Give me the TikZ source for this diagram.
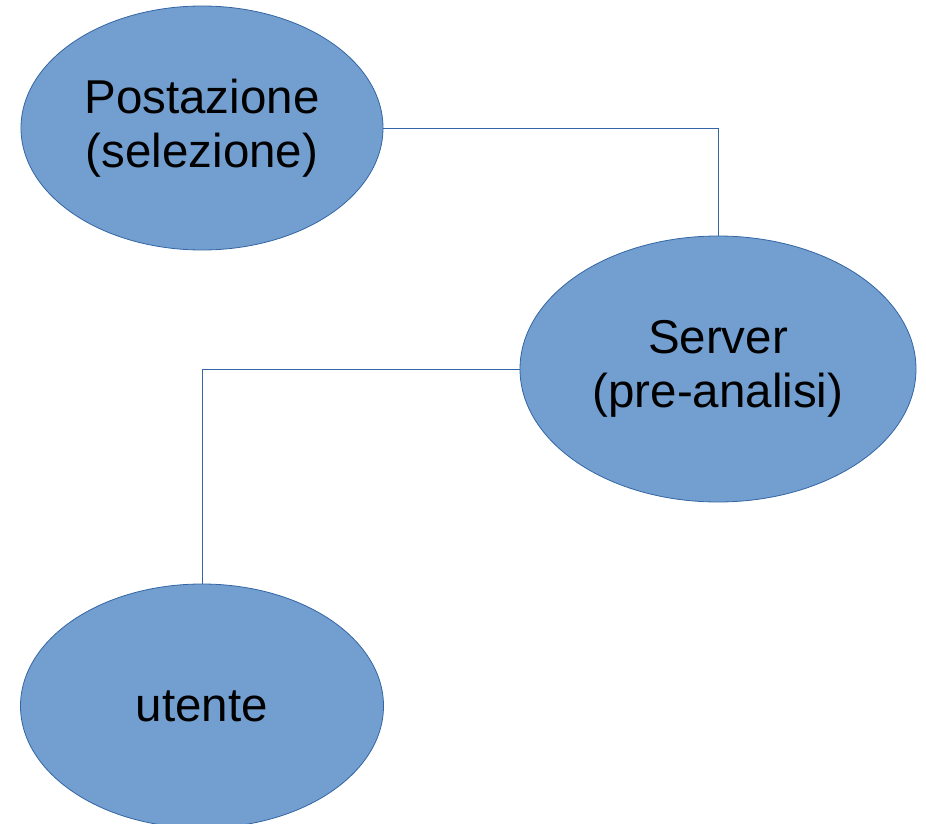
\documentclass[tikz,border=0pt]{standalone}
\usepackage{fontspec}
\setmainfont{Liberation Sans}
\usetikzlibrary{shapes.geometric}
\definecolor{bubblefill}{HTML}{729FCF}
\definecolor{bubbleline}{HTML}{3465A4}

\begin{document}
\begin{tikzpicture}[x=1pt,y=-1pt,
  bubble/.style={ellipse, draw=bubbleline, fill=bubblefill, line width=0.8pt,
    inner sep=0pt, align=center, font=\fontsize{47.5}{54}\selectfont},
  wire/.style={draw=bubbleline, line width=0.8pt}]
\useasboundingbox (0,0) rectangle (926,824);

% nodes
\node[bubble, minimum width=362pt, minimum height=244pt] (post) at (202,128) {Postazione\\(selezione)};
\node[bubble, minimum width=396pt, minimum height=266pt] (server) at (718,369) {Server\\(pre-analisi)};
\node[bubble, minimum width=363pt, minimum height=244pt] (utente) at (202,706) {utente};

% connectors
\draw[wire] (post.east) -| (server.north);
\draw[wire] (server.west) -| (utente.north);

\end{tikzpicture}
\end{document}
